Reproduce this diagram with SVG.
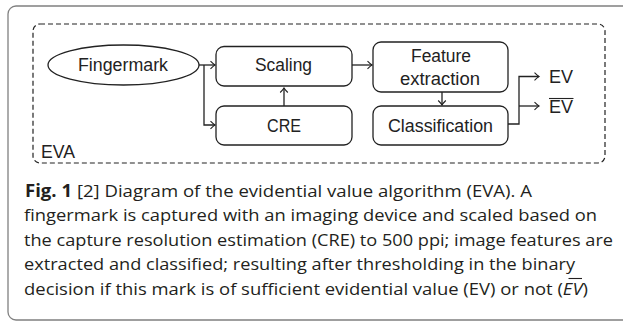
<svg xmlns="http://www.w3.org/2000/svg" width="623" height="322" viewBox="0 0 623 322">
<defs>
<style>
.box{fill:#fff;stroke:#222;stroke-width:1.3}
.dg{font-family:"Liberation Sans",Arial,sans-serif;font-size:17.5px;fill:#222}
.cap{font-family:"Open Sans","Liberation Sans",sans-serif;font-size:17px;fill:#231f20}
.ln{fill:none;stroke:#222;stroke-width:1.3}
</style>
<marker id="ar" viewBox="-6 -5 8 10" markerWidth="8" markerHeight="10" refX="0" refY="0" orient="auto" markerUnits="userSpaceOnUse">
<path d="M-4.5,-3.8 Q-1.5,-0.8 0,0 Q-1.5,0.8 -4.5,3.8" fill="none" stroke="#222" stroke-width="1.1"/>
</marker>
</defs>
<rect width="623" height="322" fill="#fff"/>
<rect x="8" y="6" width="640" height="314" rx="8" fill="none" stroke="#808080" stroke-width="1.3"/>
<g id="eva">
<rect x="33" y="24" width="572" height="139" rx="7" fill="none" stroke="#222" stroke-width="1.2" stroke-dasharray="5,3"/>
<text class="dg" x="41" y="158" textLength="34" lengthAdjust="spacingAndGlyphs">EVA</text>
</g>
<g id="connectors">
<path class="ln" d="M199,65 H215" marker-end="url(#ar)"/>
<path class="ln" d="M204,65 V125 H215" marker-end="url(#ar)"/>
<path class="ln" d="M284,106 V88" marker-end="url(#ar)"/>
<path class="ln" d="M352,65 H372" marker-end="url(#ar)"/>
<path class="ln" d="M442,92 V105" marker-end="url(#ar)"/>
<path class="ln" d="M508,124 H519 V76.5 H539" marker-end="url(#ar)"/>
<path class="ln" d="M519,106 H539" marker-end="url(#ar)"/>
</g>
<g id="fingermark">
<ellipse cx="123.5" cy="65" rx="75.5" ry="20" class="box"/>
<text class="dg" x="78" y="71" textLength="90" lengthAdjust="spacingAndGlyphs">Fingermark</text>
</g>
<g id="scaling">
<rect x="216" y="46.5" width="136" height="39.5" rx="8" class="box"/>
<text class="dg" x="255" y="71" textLength="57" lengthAdjust="spacingAndGlyphs">Scaling</text>
</g>
<g id="cre">
<rect x="216" y="106" width="136" height="39" rx="8" class="box"/>
<text class="dg" x="267" y="132" textLength="34" lengthAdjust="spacingAndGlyphs">CRE</text>
</g>
<g id="feature">
<rect x="373" y="42" width="135" height="50" rx="8" class="box"/>
<text class="dg" x="411" y="62" textLength="60" lengthAdjust="spacingAndGlyphs">Feature</text>
<text class="dg" x="400" y="84.5" textLength="80" lengthAdjust="spacingAndGlyphs">extraction</text>
</g>
<g id="classification">
<rect x="373" y="106" width="135" height="39" rx="8" class="box"/>
<text class="dg" x="388" y="132" textLength="105" lengthAdjust="spacingAndGlyphs">Classification</text>
</g>
<g id="ev">
<text class="dg" x="549" y="83" textLength="24" lengthAdjust="spacingAndGlyphs">EV</text>
</g>
<g id="evbar">
<text class="dg" x="549" y="113" textLength="24" lengthAdjust="spacingAndGlyphs">EV</text>
<line x1="549" y1="98.5" x2="573.5" y2="98.5" stroke="#222" stroke-width="1.1"/>
</g>
<g id="caption">
<text class="cap" x="25" y="196.5" textLength="507" lengthAdjust="spacingAndGlyphs"><tspan font-weight="bold">Fig. 1</tspan> [2] Diagram of the evidential value algorithm (EVA). A</text>
<text class="cap" x="24" y="221" textLength="573" lengthAdjust="spacingAndGlyphs">fingermark is captured with an imaging device and scaled based on</text>
<text class="cap" x="24" y="245.5" textLength="589" lengthAdjust="spacingAndGlyphs">the capture resolution estimation (CRE) to 500 ppi; image features are</text>
<text class="cap" x="24" y="270" textLength="551" lengthAdjust="spacingAndGlyphs">extracted and classified; resulting after thresholding in the binary</text>
<text class="cap" x="24" y="294.5" textLength="564" lengthAdjust="spacingAndGlyphs">decision if this mark is of sufficient evidential value (EV) or not (<tspan font-style="italic">EV</tspan>)</text>
<line x1="568.5" y1="278.5" x2="582" y2="278.5" stroke="#231f20" stroke-width="1.1"/>
</g>
</svg>
